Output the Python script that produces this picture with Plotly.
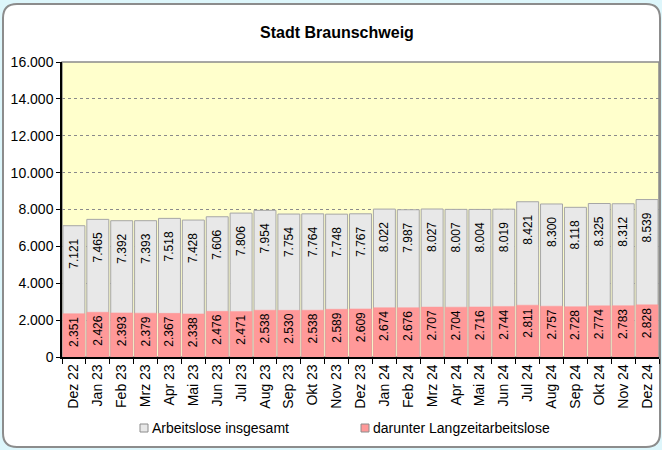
import plotly.graph_objects as go

months = ["Dez 22", "Jan 23", "Feb 23", "Mrz 23", "Apr 23", "Mai 23", "Jun 23", "Jul 23",
          "Aug 23", "Sep 23", "Okt 23", "Nov 23", "Dez 23", "Jan 24", "Feb 24", "Mrz 24",
          "Apr 24", "Mai 24", "Jun 24", "Jul 24", "Aug 24", "Sep 24", "Okt 24", "Nov 24", "Dez 24"]
insgesamt = [7121, 7465, 7392, 7393, 7518, 7428, 7606, 7806, 7954, 7754, 7764, 7748, 7767,
             8022, 7987, 8027, 8007, 8004, 8019, 8421, 8300, 8118, 8325, 8312, 8539]
langzeit = [2351, 2426, 2393, 2379, 2367, 2338, 2476, 2471, 2538, 2530, 2538, 2589, 2609,
            2674, 2676, 2707, 2704, 2716, 2744, 2811, 2757, 2728, 2774, 2783, 2828]
series_names = ["Arbeitslose insgesamt", "darunter Langzeitarbeitslose"]
y_ticks = [0, 2000, 4000, 6000, 8000, 10000, 12000, 14000, 16000]


def de(v):
    return f"{v:,}".replace(",", ".")


W, H = 662, 450
ML, MR, MT, MB = 62, 3, 62, 93
PW, PH = W - ML - MR, H - MT - MB


def fx(px):
    return (px - ML) / PW


def fy(py):
    return (H - MB - py) / PH


font = "Liberation Sans, Arial, sans-serif"
grey_fill, grey_line = "#e8e8e8", "#a6a6a6"
red_fill, red_line = "#ff9999", "#ff9999"
pad = "<span style='color:rgba(0,0,0,0)'>0.</span>"

fig = go.Figure()
fig.add_trace(go.Bar(
    x=months, y=insgesamt, name=series_names[0],
    marker=dict(color=grey_fill, line=dict(color=grey_line, width=1)),
    text=[de(v) + pad for v in insgesamt],
    textposition="inside", insidetextanchor="end", textangle=-90,
    constraintext="none",
    textfont=dict(family=font, size=12, color="black"),
    hoverinfo="skip",
))
fig.add_trace(go.Bar(
    x=months, y=langzeit, name=series_names[1],
    marker=dict(color=red_fill, line=dict(color=red_line, width=0.5)),
    text=[de(v) for v in langzeit],
    textposition="inside", insidetextanchor="end", textangle=-90,
    constraintext="none",
    textfont=dict(family=font, size=12, color="black"),
    hoverinfo="skip",
))

# rounded white panel
x0, x1, y0, y1, r = 3, 660, 4, 447, 14
path = (f"M {fx(x0 + r)} {fy(y0)} L {fx(x1 - r)} {fy(y0)} Q {fx(x1)} {fy(y0)} {fx(x1)} {fy(y0 + r)} "
        f"L {fx(x1)} {fy(y1 - r)} Q {fx(x1)} {fy(y1)} {fx(x1 - r)} {fy(y1)} "
        f"L {fx(x0 + r)} {fy(y1)} Q {fx(x0)} {fy(y1)} {fx(x0)} {fy(y1 - r)} "
        f"L {fx(x0)} {fy(y0 + r)} Q {fx(x0)} {fy(y0)} {fx(x0 + r)} {fy(y0)} Z")

shapes = [
    dict(type="path", path=path, xref="paper", yref="paper", layer="below",
         fillcolor="white", line=dict(color="#8c8c8c", width=2)),
    dict(type="rect", x0=0, x1=1, y0=0, y1=1, xref="paper", yref="paper", layer="below",
         fillcolor="#ffffcc", line=dict(color="#8a8a8a", width=1.5)),
]

# custom legend (symbol squares + text)
legend_items = [(140, grey_fill, "#8c8c8c"), (361, red_fill, "#8c8c8c")]
annotations = []
for (lx, fill, edge), name in zip(legend_items, series_names):
    shapes.append(dict(type="rect", xref="paper", yref="paper",
                       x0=fx(lx), x1=fx(lx + 8), y0=fy(432), y1=fy(424),
                       fillcolor=fill, line=dict(color=edge, width=1)))
    annotations.append(dict(text=name, xref="paper", yref="paper", x=fx(lx + 10), y=fy(428),
                            xanchor="left", yanchor="middle", showarrow=False,
                            font=dict(family=font, size=14, color="black")))

fig.update_layout(
    width=W, height=H,
    margin=dict(l=ML, r=MR, t=MT, b=MB),
    paper_bgcolor="#ddf6fb",
    plot_bgcolor="rgba(0,0,0,0)",
    separators=",.",
    barmode="overlay",
    bargap=0.08,
    shapes=shapes,
    annotations=annotations,
    font=dict(family=font, size=14, color="black"),
    title=dict(text="<b>Stadt Braunschweig</b>", x=0.509, xanchor="center",
               y=1 - 32 / H, yanchor="middle", font=dict(family=font, size=16, color="black")),
    showlegend=False,
)
fig.update_xaxes(
    type="category", tickangle=-90, ticks="outside", tickson="boundaries", ticklen=5,
    tickcolor="black", showline=True, linecolor="black", linewidth=1.5,
    tickfont=dict(family=font, size=14, color="black"), showgrid=False,
)
fig.update_yaxes(
    range=[0, 16000], tickvals=y_ticks, ticktext=[de(v) for v in y_ticks],
    ticks="outside", ticklen=4, tickcolor="black",
    showline=True, linecolor="black", linewidth=1.5,
    showgrid=True, gridcolor="#8a8a8a", griddash="dot", gridwidth=1,
    zeroline=False, tickfont=dict(family=font, size=14, color="black"),
)

fig.write_html("out.html", config={"displayModeBar": False},
               post_script="document.body.style.margin='0';document.body.style.overflow='hidden';")
